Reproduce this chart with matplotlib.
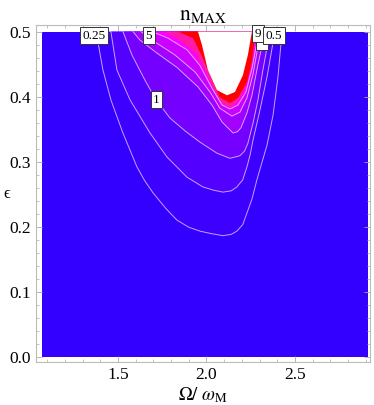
import matplotlib.pyplot as plt
from matplotlib.ticker import MultipleLocator

#------------------ data
omega_range = [1.07, 2.91]
eps_range = [0.0, 0.5]

levels = [0.25, 0.5, 1, 2, 3, 5, 7, 9]

# contour curves (Omega/omega_M, eps), left top -> minimum -> right top
n_025 = [(1.376, 0.50), (1.396, 0.470), (1.415, 0.441), (1.460, 0.395), (1.528, 0.344),
         (1.607, 0.292), (1.650, 0.271), (1.698, 0.252), (1.770, 0.228), (1.833, 0.210),
         (1.900, 0.199), (1.963, 0.193), (2.030, 0.189), (2.093, 0.186), (2.140, 0.188),
         (2.172, 0.193), (2.205, 0.203), (2.229, 0.221), (2.258, 0.243), (2.285, 0.272),
         (2.315, 0.300), (2.342, 0.325), (2.376, 0.371), (2.404, 0.430), (2.427, 0.50)]
n_05 = [(1.460, 0.50), (1.494, 0.441), (1.568, 0.395), (1.681, 0.344), (1.777, 0.307),
        (1.890, 0.276), (1.980, 0.261), (2.040, 0.256), (2.093, 0.253), (2.140, 0.255),
        (2.172, 0.261), (2.205, 0.272), (2.229, 0.292), (2.248, 0.312), (2.263, 0.333),
        (2.302, 0.379), (2.342, 0.430), (2.387, 0.50)]
n_1 = [(1.528, 0.50), (1.579, 0.464), (1.653, 0.425), (1.715, 0.395), (1.794, 0.367),
       (1.880, 0.347), (1.963, 0.330), (2.059, 0.313), (2.133, 0.305), (2.189, 0.309),
       (2.215, 0.316), (2.234, 0.328), (2.263, 0.359), (2.291, 0.395), (2.319, 0.441),
       (2.359, 0.50)]
n_2 = [(1.585, 0.50), (1.624, 0.487), (1.720, 0.467), (1.833, 0.445), (1.952, 0.415),
       (2.031, 0.387), (2.088, 0.361), (2.150, 0.344), (2.175, 0.346), (2.195, 0.352),
       (2.229, 0.375), (2.257, 0.402), (2.290, 0.448), (2.331, 0.50)]
n_3 = [(1.630, 0.50), (1.709, 0.484), (1.822, 0.464), (1.935, 0.438), (2.020, 0.407),
       (2.076, 0.382), (2.144, 0.370), (2.189, 0.376), (2.229, 0.398), (2.262, 0.433),
       (2.288, 0.472), (2.310, 0.50)]
n_5 = [(1.692, 0.50), (1.782, 0.490), (1.890, 0.472), (1.963, 0.448), (2.031, 0.413),
       (2.088, 0.387), (2.133, 0.381), (2.178, 0.387), (2.223, 0.407), (2.258, 0.444),
       (2.282, 0.479), (2.295, 0.50)]
n_7 = [(1.766, 0.50), (1.850, 0.487), (1.935, 0.468), (1.992, 0.441), (2.042, 0.410),
       (2.088, 0.388), (2.133, 0.384), (2.172, 0.390), (2.218, 0.413), (2.252, 0.448),
       (2.275, 0.484), (2.288, 0.50)]
n_9 = [(1.839, 0.50), (1.924, 0.490), (1.980, 0.459), (2.037, 0.422), (2.076, 0.399),
       (2.133, 0.390), (2.178, 0.398), (2.229, 0.422), (2.257, 0.453), (2.270, 0.484),
       (2.278, 0.50)]
# edge of the plot range (white hole)
n_clip = [(1.952, 0.50), (1.975, 0.479), (2.008, 0.441), (2.059, 0.410), (2.116, 0.402),
          (2.161, 0.407), (2.206, 0.433), (2.234, 0.464), (2.257, 0.50)]

curves = [n_025, n_05, n_1, n_2, n_3, n_5, n_7, n_9]
band_colors = ['#3300ff', '#3d00ff', '#5200ff', '#7400ff', '#a200ff',
               '#cc00ff', '#ff00ff', '#ff1aa8', '#ff0000']

label_text = ['0.25', '5', '1', '', '9', '0.5']

plt.rcParams['mathtext.fontset'] = 'stix'
plt.rcParams['font.family'] = ['Liberation Serif', 'DejaVu Serif']


#------------------ function fill_curve
def fill_curve(ax, pts, color):
    xs = [p[0] for p in pts]
    ys = [p[1] for p in pts]
    ax.fill(xs, ys, color=color, lw=0, zorder=2)


#------------------ function draw_line
def draw_line(ax, pts):
    xs = [p[0] for p in pts]
    ys = [p[1] for p in pts]
    ax.plot(xs, ys, color='#e6ccff', lw=0.7, alpha=0.8, zorder=3)


#------------------ function tag
def tag(ax, x, y, s, z=5):
    ax.text(x, y, s, ha='center', va='center', fontsize=9.5, zorder=z,
            bbox=dict(boxstyle='square,pad=0.18', fc='white', ec='#333333', lw=0.7))


fig = plt.figure(figsize=(3.74, 4.05), dpi=100)
ax = fig.add_axes([0.0963, 0.106, 0.893, 0.832])

ax.fill([omega_range[0], omega_range[1], omega_range[1], omega_range[0]],
        [eps_range[0], eps_range[0], eps_range[1], eps_range[1]],
        color=band_colors[0], lw=0, zorder=1)
for i, c in enumerate(curves):
    fill_curve(ax, c, band_colors[i + 1])
fill_curve(ax, n_clip, 'white')
for c in curves[:6]:
    draw_line(ax, c)

tag(ax, 1.364, 0.494, label_text[0])
tag(ax, 1.675, 0.494, label_text[1])
tag(ax, 1.718, 0.395, label_text[2])
tag(ax, 2.314, 0.484, '  ', z=4)
tag(ax, 2.291, 0.497, label_text[4])
tag(ax, 2.381, 0.494, label_text[5])

ax.set_xlim(1.037, 2.924)
ax.set_ylim(-0.0085, 0.510)
ax.xaxis.set_major_locator(MultipleLocator(0.5))
ax.xaxis.set_minor_locator(MultipleLocator(0.1))
ax.yaxis.set_major_locator(MultipleLocator(0.1))
ax.yaxis.set_minor_locator(MultipleLocator(0.02))
ax.xaxis.set_major_formatter(plt.FuncFormatter(lambda v, p: f'{v:.1f}'))
ax.yaxis.set_major_formatter(plt.FuncFormatter(lambda v, p: f'{v:.1f}'))
ax.tick_params(which='both', direction='in', color='#aaaaaa', top=True, right=True,
               labeltop=False, labelright=False, labelsize=12.5)
ax.tick_params(which='major', length=4, width=0.6)
ax.tick_params(which='minor', length=2, width=0.5)
for s in ax.spines.values():
    s.set_color('#bbbbbb')
    s.set_linewidth(0.8)

ax.set_title(r'$\mathrm{n}_{\mathrm{MAX}}$', fontsize=15.5, pad=3)
ax.set_xlabel(r'$\Omega/\ \omega_{\mathrm{M}}$', fontsize=13.5, labelpad=2)
ax.set_ylabel('ϵ', fontsize=12, rotation=0, ha='center', va='center')
ax.yaxis.set_label_coords(-0.088, 0.5)

fig.savefig('out.png', dpi=100)
